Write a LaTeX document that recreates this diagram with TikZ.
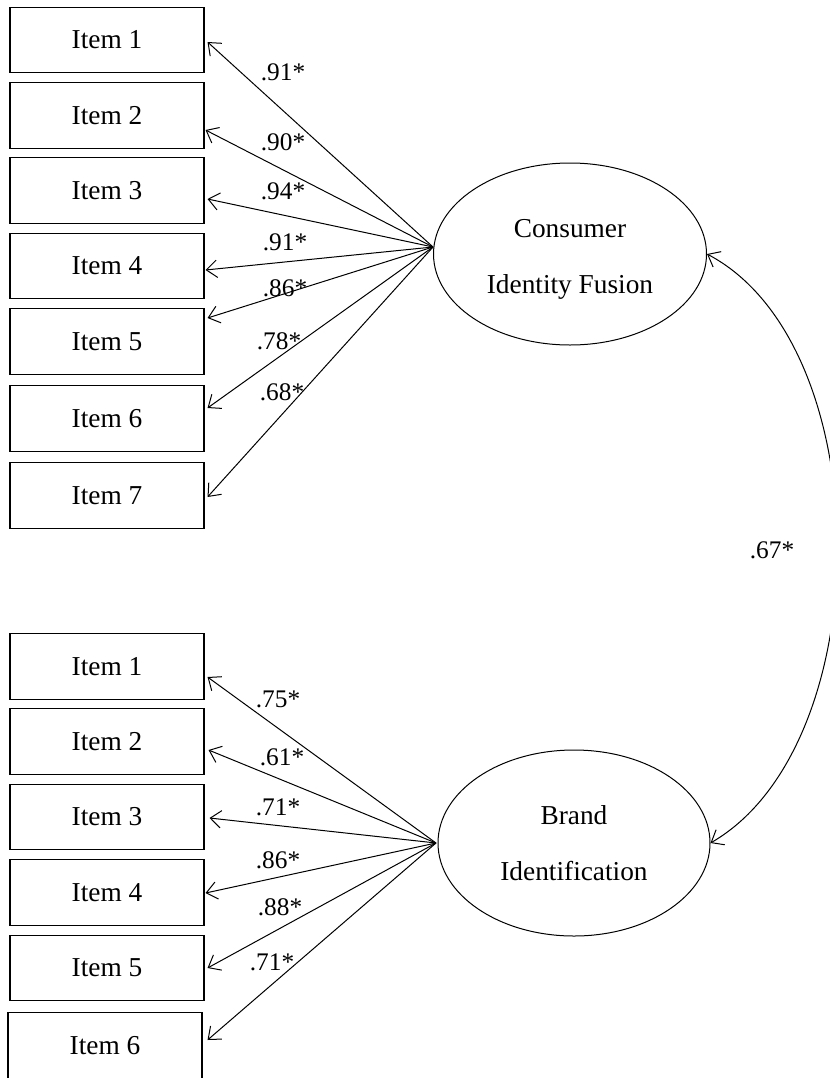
\documentclass[tikz,border=0pt]{standalone}
\usepackage{fontspec}
\setmainfont{Liberation Serif}
\usetikzlibrary{shapes.geometric,arrows.meta,calc}

\tikzset{
  itembox/.style={draw, line width=0.8pt, minimum width=145.5pt, minimum height=49pt, inner sep=0pt, font=\fontsize{20.5}{24}\selectfont},
  factor/.style={draw, ellipse, line width=0.75pt, inner sep=0pt, align=center, font=\fontsize{20.5}{42}\selectfont},
  loading/.style={font=\fontsize{19}{22}\selectfont},
  path/.style={line width=0.75pt, -{Straight Barb[length=8pt,width=13pt,line width=0.75pt]}},
}

\begin{document}
\begin{tikzpicture}[x=0.75pt,y=0.75pt,yscale=-1,xscale=1]
\useasboundingbox (0,0) rectangle (830,1078);

% Consumer Identity Fusion
\node [factor, minimum width=204.75pt, minimum height=136.5pt] (cif) at (570,254) {\rule{0pt}{22pt}Consumer\\Identity Fusion};
\node [itembox] (a1) at (107,40) {Item 1};
\node [itembox] (a2) at (107,115.5) {Item 2};
\node [itembox] (a3) at (107,190.5) {Item 3};
\node [itembox] (a4) at (107,266) {Item 4};
\node [itembox] (a5) at (107,341.5) {Item 5};
\node [itembox] (a6) at (107,418.5) {Item 6};
\node [itembox] (a7) at (107,495.5) {Item 7};
\coordinate (cf) at (433,247);

\draw [path] (cf) -- ($(a1.east)+(3,2)$);
\draw [path] (cf) -- ($(a2.east)+(1,14.5)$);
\draw [path] (cf) -- ($(a3.east)+(3,8.5)$);
\draw [path] (cf) -- ($(a4.east)+(1,4)$);
\draw [path] (cf) -- ($(a5.east)+(3,-23.5)$);
\draw [path] (cf) -- ($(a6.east)+(3,-10.5)$);
\draw [path] (cf) -- ($(a7.east)+(3,1.5)$);

% Text Node
\node [loading] (la1) at (283,72) {.91*};
\node [loading] (la2) at (283,142) {.90*};
\node [loading] (la3) at (283,191) {.94*};
\node [loading] (la4) at (285,242) {.91*};
\node [loading] (la5) at (285,288) {.86*};
\node [loading] (la6) at (279,341) {.78*};
\node [loading] (la7) at (282,392) {.68*};

% Brand Identification
\node [factor, minimum width=204pt, minimum height=139.5pt] (bi) at (574,843) {Brand\\Identification};
\node [itembox] (b1) at (107,666.5) {Item 1};
\node [itembox] (b2) at (107,741.5) {Item 2};
\node [itembox] (b3) at (107,817) {Item 3};
\node [itembox] (b4) at (107,892.5) {Item 4};
\node [itembox] (b5) at (107,968) {Item 5};
\node [itembox] (b6) at (105,1045.5) {Item 6};
\coordinate (bf) at (436,843);

\draw [path] (bf) -- ($(b1.east)+(3,10.5)$);
\draw [path] (bf) -- ($(b2.east)+(4,8.5)$);
\draw [path] (bf) -- ($(b3.east)+(5,1)$);
\draw [path] (bf) -- ($(b4.east)+(1,0.5)$);
\draw [path] (bf) -- ($(b5.east)+(3,0)$);
\draw [path] (bf) -- ($(b6.east)+(5,-5.5)$);

% Text Node
\node [loading] (lb1) at (278,699) {.75*};
\node [loading] (lb2) at (282,757) {.61*};
\node [loading] (lb3) at (278,807) {.71*};
\node [loading] (lb4) at (278,860) {.86*};
\node [loading] (lb5) at (280,907) {.88*};
\node [loading] (lb6) at (272,962) {.71*};

% correlation
\draw [path, {Straight Barb[length=8pt,width=13pt,line width=0.75pt]}-{Straight Barb[length=8pt,width=13pt,line width=0.75pt]}] (cif.east) .. controls (880,345) and (880,745) .. (bi.east);
\node [loading] (lr) at (772,550) {.67*};

\end{tikzpicture}
\end{document}
